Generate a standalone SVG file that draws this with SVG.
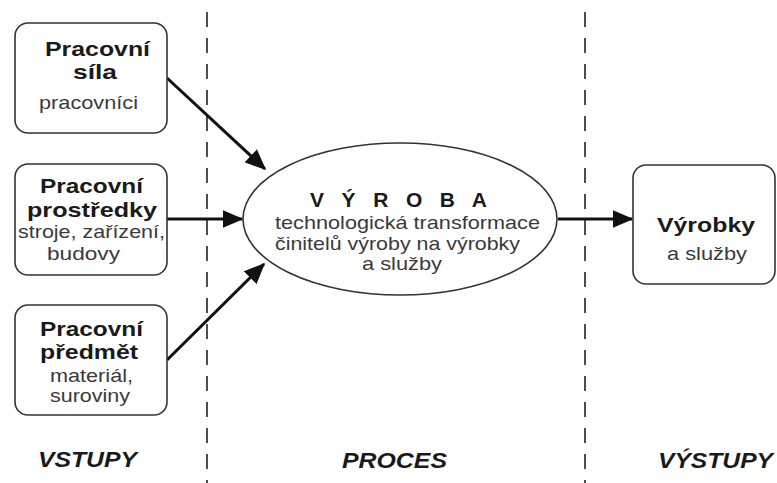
<svg xmlns="http://www.w3.org/2000/svg" width="777" height="483" viewBox="0 0 777 483">
<style>
text{font-family:"Liberation Sans",Arial,sans-serif;}
.b{font-weight:bold;font-size:21px;fill:#1a1a1a;}
.r{font-size:19px;fill:#3a3a3a;}
.h{font-weight:bold;font-style:italic;font-size:22px;fill:#1a1a1a;}
.box{fill:#fff;stroke:#333;stroke-width:1.6;}
.dash{stroke:#222;stroke-width:1.6;stroke-dasharray:15 11;fill:none;}
.con{stroke:#111;stroke-width:3;fill:none;}
</style>
<defs>
<marker id="ah" markerWidth="7" markerHeight="6" refX="6.5" refY="3" orient="auto" markerUnits="strokeWidth">
<path d="M0,0 L7,3 L0,6 Z" fill="#111"/>
</marker>
</defs>
<rect width="777" height="483" fill="#fff"/>
<g id="separators">
<line class="dash" x1="207" y1="12" x2="207" y2="483"/>
<line class="dash" x1="585" y1="12" x2="585" y2="483"/>
</g>
<g id="connectors">
<line class="con" x1="167" y1="78" x2="265" y2="169" marker-end="url(#ah)"/>
<line class="con" x1="167" y1="219" x2="242" y2="219" marker-end="url(#ah)"/>
<line class="con" x1="167" y1="360" x2="264" y2="264" marker-end="url(#ah)"/>
<line class="con" x1="558" y1="219" x2="632" y2="219" marker-end="url(#ah)"/>
</g>
<g id="node-sila">
<rect class="box" x="15" y="23" width="152" height="110" rx="13"/>
<text class="b" x="45" y="56" textLength="105" lengthAdjust="spacingAndGlyphs">Pracovní</text>
<text class="b" x="73" y="79" textLength="44" lengthAdjust="spacingAndGlyphs">síla</text>
<text class="r" x="39" y="109" textLength="99" lengthAdjust="spacingAndGlyphs">pracovníci</text>
</g>
<g id="node-prostredky">
<rect class="box" x="15" y="164" width="152" height="111" rx="13"/>
<text class="b" x="40" y="193" textLength="103" lengthAdjust="spacingAndGlyphs">Pracovní</text>
<text class="b" x="27" y="217" textLength="130" lengthAdjust="spacingAndGlyphs">prostředky</text>
<text class="r" x="18" y="238" textLength="147" lengthAdjust="spacingAndGlyphs">stroje, zařízení,</text>
<text class="r" x="47" y="260" textLength="73" lengthAdjust="spacingAndGlyphs">budovy</text>
</g>
<g id="node-predmet">
<rect class="box" x="15" y="305" width="152" height="110" rx="13"/>
<text class="b" x="40" y="336" textLength="103" lengthAdjust="spacingAndGlyphs">Pracovní</text>
<text class="b" x="40" y="359" textLength="98" lengthAdjust="spacingAndGlyphs">předmět</text>
<text class="r" x="50" y="382" textLength="83" lengthAdjust="spacingAndGlyphs">materiál,</text>
<text class="r" x="50" y="402" textLength="80" lengthAdjust="spacingAndGlyphs">suroviny</text>
</g>
<g id="node-vyroba">
<ellipse class="box" cx="400" cy="219" rx="157" ry="76"/>
<text class="b" x="310" y="207" textLength="177" lengthAdjust="spacing">V Ý R O B A</text>
<text class="r" x="275" y="229" textLength="265" lengthAdjust="spacingAndGlyphs">technologická transformace</text>
<text class="r" x="275" y="250" textLength="245" lengthAdjust="spacingAndGlyphs">činitelů výroby na výrobky</text>
<text class="r" x="362" y="270" textLength="80" lengthAdjust="spacingAndGlyphs">a služby</text>
</g>
<g id="node-vyrobky">
<rect class="box" x="633" y="165" width="142" height="119" rx="13"/>
<text class="b" x="657" y="232" textLength="98" lengthAdjust="spacingAndGlyphs">Výrobky</text>
<text class="r" x="667" y="260" textLength="80" lengthAdjust="spacingAndGlyphs">a služby</text>
</g>
<g id="labels">
<text class="h" x="38" y="467" textLength="99" lengthAdjust="spacingAndGlyphs">VSTUPY</text>
<text class="h" x="342" y="468" textLength="105" lengthAdjust="spacingAndGlyphs">PROCES</text>
<text class="h" x="658" y="468" textLength="115" lengthAdjust="spacingAndGlyphs">VÝSTUPY</text>
</g>
</svg>
